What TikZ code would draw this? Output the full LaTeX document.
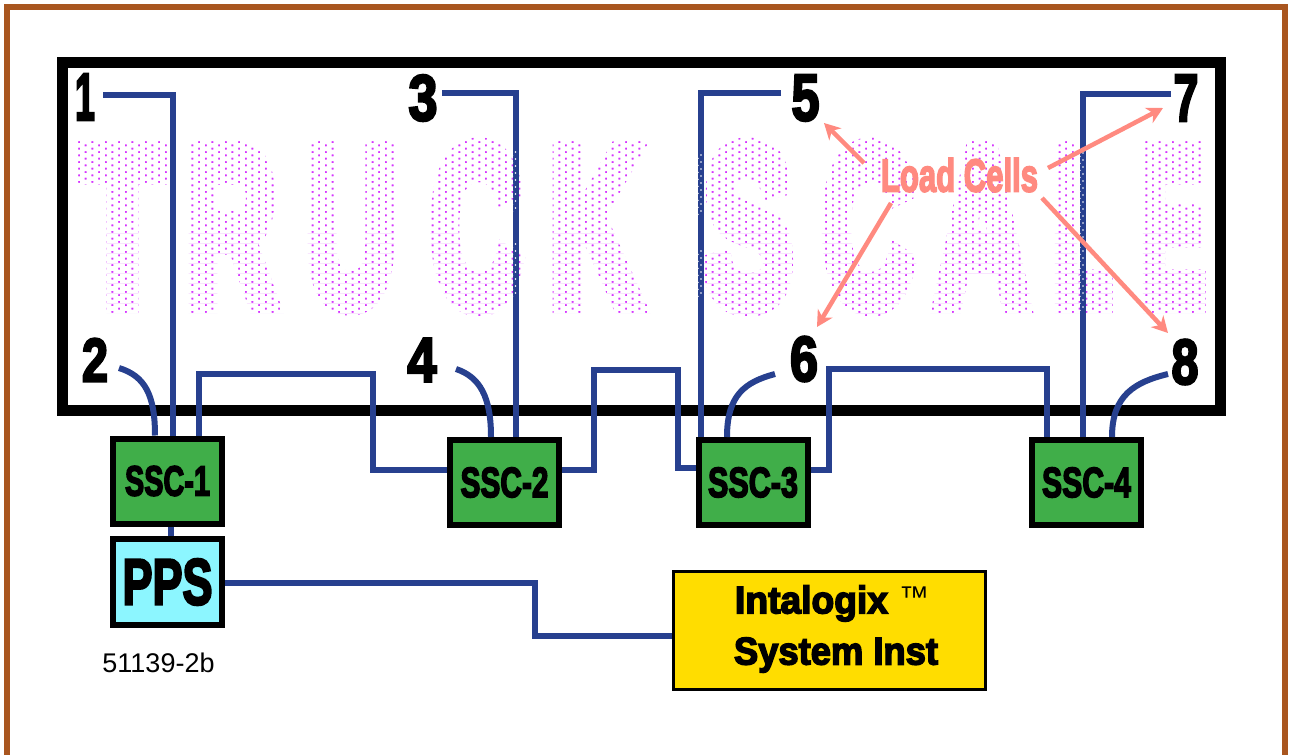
\documentclass[tikz,border=0pt]{standalone}
\usepackage{graphicx}
\usepackage{fontspec}
\usetikzlibrary{arrows.meta}
\newfontface\impact[FakeBold=4]{Liberation Sans Bold}
\newfontface\impactheavy[FakeBold=8.5]{Liberation Sans Bold}
\newfontface\plainsans{Liberation Sans}
\newcommand\fitbox[3]{\resizebox*{#1pt}{#2pt}{\impact #3}}
\newcommand\fitbig[3]{\resizebox*{#1pt}{#2pt}{\impactheavy #3}}
\definecolor{wireblue}{HTML}{27408F}
\definecolor{framebrown}{HTML}{A9561F}
\definecolor{sscgreen}{HTML}{40AE49}
\definecolor{ppscyan}{HTML}{8CF6FF}
\definecolor{instyellow}{HTML}{FFDD00}
\definecolor{dotpurple}{HTML}{D633FF}
\definecolor{loadpink}{HTML}{FF8A80}
\tikzset{
  wire/.style={draw=wireblue,line width=6pt},
  ssc/.style={draw=black,fill=sscgreen,line width=6pt,inner sep=0pt,minimum width=109pt,minimum height=85pt},
  lbl/.style={inner sep=0pt,outer sep=0pt,text=black},
  bigl/.style={inner sep=0pt,outer sep=0pt,text=dotpurple},
  pointer/.style={draw=loadpink,line width=4.5pt,-{Stealth[length=16pt,width=17pt,inset=5pt]}},
}
\begin{document}
\begin{tikzpicture}[x=1pt,y=-1pt]
\useasboundingbox (0,0) rectangle (1291,755);
\fill[white] (0,0) rectangle (1291,755);
% outer frame (open at the bottom)
\draw[framebrown,line width=6pt,miter limit=10] (7,755) -- (7,7) -- (1285,7) -- (1285,755);
% big background lettering, reduced to dots by a white mask
\node[bigl] (tT) at (122.5,227) {\fitbig{84}{153}{T}};
\node[bigl] (tR) at (231,227) {\fitbig{91}{153}{R}};
\node[bigl] (tU) at (351,228) {\fitbig{91}{156}{U}};
\node[bigl] (tC) at (476,227) {\fitbig{91}{160}{C}};
\node[bigl] (tK) at (595,227) {\fitbig{91}{153}{K}};
\node[bigl] (tS) at (748,227) {\fitbig{89}{160}{S}};
\node[bigl] (tD) at (868,227) {\fitbig{92}{160}{C}};
\node[bigl] (tA) at (982,227) {\fitbig{94}{153}{A}};
\node[bigl] (tL) at (1082,227) {\fitbig{59}{153}{L}};
\node[bigl] (tE) at (1173,227) {\fitbig{65}{153}{E}};
\foreach \j in {-4,...,58}{
  \pgfmathsetmacro\yy{138.7+3.33*\j}
  \pgfmathsetmacro\xo{72.4+6.67*mod(\j+4,2)}
  \fill[white,even odd rule] (69,\yy-1.8) rectangle (1216,\yy+1.8)
    \foreach \i in {-1,...,85}{ (\xo+13.34*\i-1,\yy-1) rectangle ++(2,2) };
}
% truck scale outline
\draw[black,line width=11pt] (62.5,62.5) rectangle (1220.5,410.5);
% numbers
\node[lbl] (n1) at (85,97) {\fitbox{20}{46}{1}};
\node[lbl] (n2) at (95,360) {\fitbox{26}{43}{2}};
\node[lbl] (n3) at (423,98) {\fitbox{29}{46}{3}};
\node[lbl] (n4) at (422,360) {\fitbox{29}{43}{4}};
\node[lbl] (n5) at (805.5,98) {\fitbox{28}{46}{5}};
\node[lbl] (n6) at (804,359) {\fitbox{28}{45}{6}};
\node[lbl] (n7) at (1186,98) {\fitbox{25}{46}{7}};
\node[lbl] (n8) at (1185,362) {\fitbox{27}{45}{8}};
% boxes
\node[ssc] (s1) at (167.5,481) {\fitbox{85}{30}{SSC-1}};
\node[ssc] (s2) at (504.5,482.5) {\fitbox{88}{30}{SSC-2}};
\node[ssc] (s3) at (753,482.5) {\fitbox{90}{30}{SSC-3}};
\node[ssc] (s4) at (1086.5,482.5) {\fitbox{89}{30}{SSC-4}};
\node[draw=black,fill=ppscyan,line width=6pt,inner sep=0pt,minimum width=109pt,minimum height=86pt] (pps) at (167.5,582) {\fitbox{90}{46}{PPS}};
\node[draw=black,fill=instyellow,line width=3pt,inner sep=0pt,minimum width=312pt,minimum height=118pt] (inst) at (829.5,630.5) {};
\node[lbl] (il) at (811.5,603.5) {\fitbox{153}{36}{Intalogix}};
\node[lbl,anchor=base west,font=\plainsans\fontsize{30}{30}\selectfont] (tm) at (899,607) {™};
\node[lbl] (si) at (836,655) {\fitbox{204}{35}{System Inst}};
\node[lbl,text=black,anchor=base,font=\plainsans\fontsize{27}{27}\selectfont] (code) at (158.5,672.5) {51139-2b};
% free ends
\coordinate (c1) at (103,95);
\coordinate (c2) at (119,368);
\coordinate (c3) at (442,93);
\coordinate (c4) at (456,369);
\coordinate (c5) at (781,93);
\coordinate (c6) at (775,374);
\coordinate (c7) at (1171,94);
\coordinate (c8) at (1168,374);
% wires
\draw[wire] (c1) -| ([xshift=5pt]s1.north);
\draw[wire] (c3) -| ([xshift=11pt]s2.north);
\draw[wire] (c5) -| ([xshift=-52pt]s3.north);
\draw[wire] (c7) -| ([xshift=-3.5pt]s4.north);
\draw[wire] (c2) .. controls (145,376) and (155,395) .. ([xshift=-12.5pt]s1.north);
\draw[wire] (c4) .. controls (480,377) and (491,397) .. ([xshift=-13.5pt]s2.north);
\draw[wire] (c6) .. controls (745,382) and (727,395) .. ([xshift=-26pt]s3.north);
\draw[wire] (c8) .. controls (1135,382) and (1112,395) .. ([xshift=25.5pt]s4.north);
\draw[wire] ([xshift=31.5pt]s1.north) -- ++(0,-62) -- ++(174,0) |- ([yshift=12.5pt]s2.west);
\draw[wire] ([yshift=12.5pt]s2.east) -- ++(32,0) -- ++(0,-100) -- ++(83.5,0) |- ([yshift=14.5pt]s3.west);
\draw[wire] ([yshift=12.5pt]s3.east) -- ++(18,0) -- ++(0,-101) -| ([xshift=-39.5pt]s4.north);
\draw[wire] ([xshift=3.5pt]s1.south) -- ([xshift=3.5pt]pps.north);
\draw[wire] ([yshift=-1pt]pps.east) -- ++(310,0) |- ([yshift=-5.5pt]inst.west);
% white specks where the dotted lettering crosses a wire
\foreach \wx/\ya/\yb in {515.5/152/212,515.5/244/298,701/155/215,701/251/295,1083/153/308}{
  \foreach \yy in {\ya,\the\numexpr\ya+7\relax,...,\yb}{
    \fill[white] (\wx,\yy) circle (0.8);
    \fill[white] (\wx-3,\yy+3.33) circle (0.8);
  }
}
% load cell pointers
\node[inner sep=0pt,outer sep=0pt,text=loadpink] (lc) at (959.5,175) {\fitbox{157}{34}{Load Cells}};
\coordinate (t5) at (864,163); \coordinate (h5) at (824,123);
\coordinate (t6) at (891,203); \coordinate (h6) at (817,327);
\coordinate (t7) at (1048,168); \coordinate (h7) at (1163,108);
\coordinate (t8) at (1042,198); \coordinate (h8) at (1168,333);
\draw[pointer] (t5) -- (h5);
\draw[pointer] (t6) -- (h6);
\draw[pointer] (t7) -- (h7);
\draw[pointer] (t8) -- (h8);
\end{tikzpicture}
\end{document}
